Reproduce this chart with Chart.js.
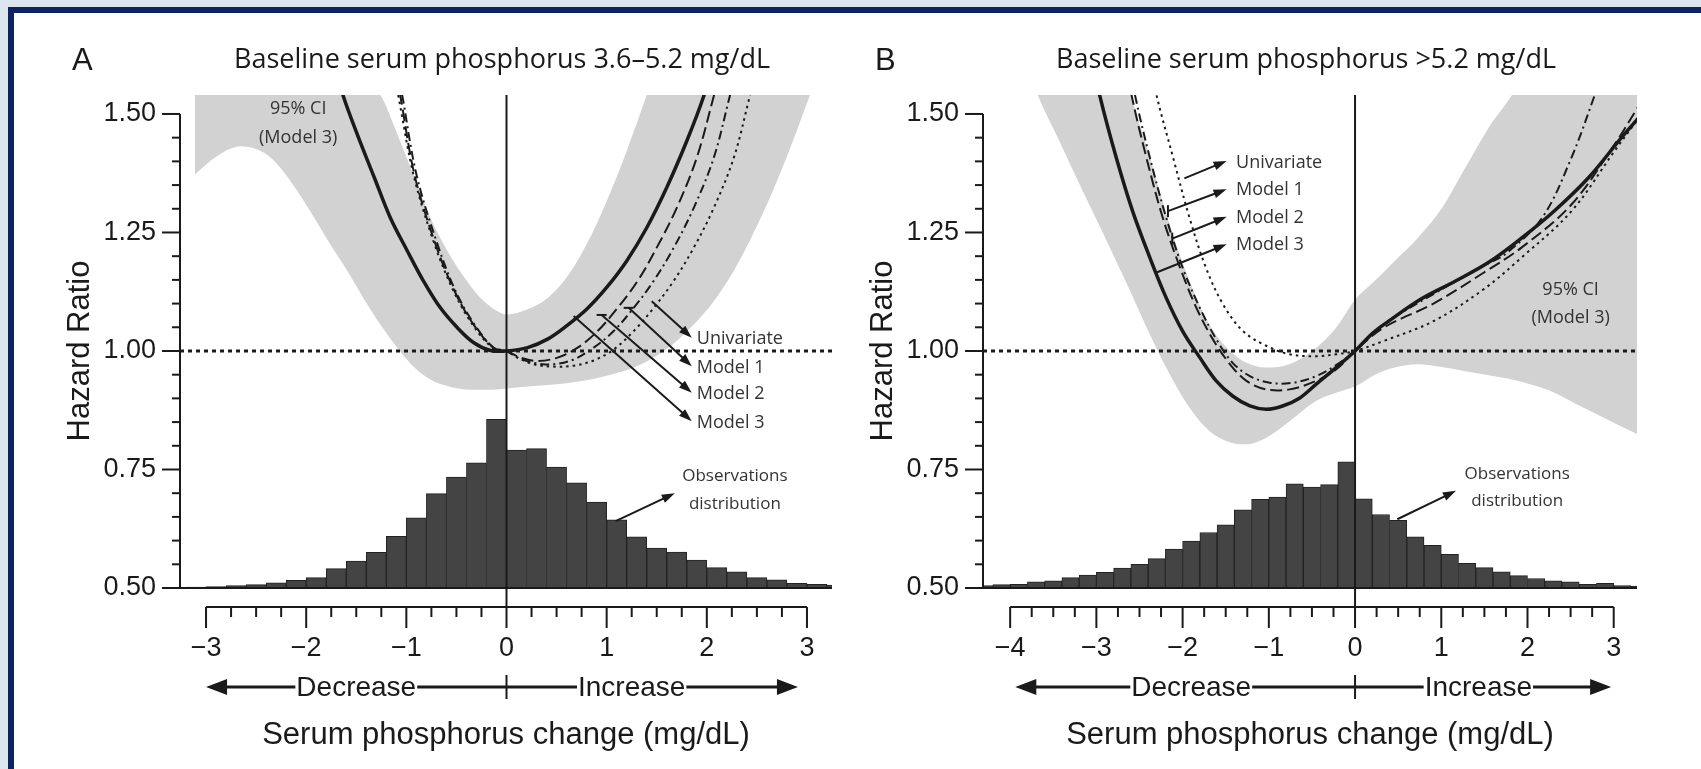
<!DOCTYPE html>
<html>
<head>
<meta charset="utf-8">
<script src="https://cdn.jsdelivr.net/npm/chart.js@4.4.1/dist/chart.umd.min.js"></script>
<style>
  html, body { margin: 0; padding: 0; background: #dde5f1; overflow: hidden; }
  #frame { position: absolute; left: 8px; top: 7px; width: 1693px; height: 762px; background: #0c2461; }
  #page { position: absolute; left: 14px; top: 13px; width: 1687px; height: 756px; background: #fff; }
  #chartA { position: absolute; left: 0; top: 0; }
  #chartB { position: absolute; left: 836px; top: 0; }
</style>
</head>
<body>
<div id="frame"></div>
<div id="page">
  <canvas id="chartA" width="836" height="756"></canvas>
  <canvas id="chartB" width="851" height="756"></canvas>
</div>
<script>
// ---- shared ticks ----
const yTicks = [0.5, 0.75, 1.0, 1.25, 1.5];
const xTicksA = [-3, -2, -1, 0, 1, 2, 3];
const xTicksB = [-4, -3, -2, -1, 0, 1, 2, 3];
const binWidth = 0.2;

// ---- panel A: baseline 3.6-5.2 ----
const aCiX     = [-3.11, -2.9, -2.65, -2.42, -2.26, -2.09, -1.92, -1.76, -1.59, -1.43, -1.26, -1.09, -0.92, -0.76, -0.59, -0.42, -0.26, -0.09, 0, 0.21, 0.41, 0.60, 0.80, 1.00, 1.20, 1.40, 1.60, 1.87, 2.07, 2.27, 2.46, 2.66, 2.86, 3.03, 3.25];
const aCiLower = [1.373, 1.41, 1.432, 1.418, 1.387, 1.338, 1.281, 1.225, 1.169, 1.112, 1.056, 1.007, 0.965, 0.940, 0.926, 0.919, 0.918, 0.919, 0.921, 0.925, 0.928, 0.932, 0.938, 0.948, 0.960, 0.978, 1.004, 1.056, 1.105, 1.169, 1.246, 1.338, 1.443, 1.54, 1.66];
const aCiUpper = [2.3, 2.2, 2.05, 1.92, 1.84, 1.76, 1.69, 1.63, 1.59, 1.56, 1.54, 1.457, 1.366, 1.281, 1.211, 1.155, 1.112, 1.084, 1.077, 1.088, 1.112, 1.155, 1.225, 1.316, 1.422, 1.54, 1.66, 1.84, 1.98, 2.1, 2.25, 2.4, 2.55, 2.7, 2.85];
const aModel3 = [[-1.68, 1.58], [-1.63, 1.538], [-1.49, 1.457], [-1.32, 1.366], [-1.16, 1.281], [-0.99, 1.211], [-0.83, 1.148], [-0.66, 1.091], [-0.49, 1.049], [-0.33, 1.018], [-0.16, 1.001], [0, 1.0], [0.21, 1.007], [0.41, 1.025], [0.60, 1.053], [0.80, 1.088], [1.00, 1.134], [1.20, 1.190], [1.40, 1.260], [1.60, 1.345], [1.80, 1.443], [1.97, 1.538], [2.02, 1.58]];
const aModel2 = [[-1.10, 1.58], [-1.06, 1.538], [-0.92, 1.373], [-0.72, 1.232], [-0.52, 1.127], [-0.33, 1.056], [-0.13, 1.007], [0, 1.0], [0.14, 0.986], [0.31, 0.979], [0.51, 0.986], [0.71, 1.007], [0.91, 1.042], [1.11, 1.091], [1.31, 1.148], [1.50, 1.218], [1.70, 1.302], [1.90, 1.408], [2.07, 1.538], [2.12, 1.58]];
const aModel1 = [[-1.08, 1.58], [-1.04, 1.538], [-0.90, 1.373], [-0.70, 1.232], [-0.51, 1.127], [-0.32, 1.056], [-0.12, 1.005], [0, 1.0], [0.11, 0.986], [0.27, 0.975], [0.47, 0.972], [0.67, 0.982], [0.87, 1.007], [1.07, 1.042], [1.27, 1.091], [1.47, 1.148], [1.67, 1.218], [1.87, 1.302], [2.07, 1.408], [2.23, 1.538], [2.28, 1.58]];
const aUnivariate = [[-1.12, 1.58], [-1.08, 1.538], [-0.93, 1.373], [-0.73, 1.232], [-0.53, 1.127], [-0.34, 1.056], [-0.14, 1.007], [0, 1.0], [0.11, 0.986], [0.27, 0.972], [0.47, 0.967], [0.67, 0.969], [0.87, 0.980], [1.07, 1.003], [1.27, 1.042], [1.47, 1.091], [1.67, 1.148], [1.87, 1.218], [2.07, 1.302], [2.27, 1.408], [2.43, 1.538], [2.48, 1.58]];
const aBins   = [-3.3, -3.1, -2.9, -2.7, -2.5, -2.3, -2.1, -1.9, -1.7, -1.5, -1.3, -1.1, -0.9, -0.7, -0.5, -0.3, -0.1, 0.1, 0.3, 0.5, 0.7, 0.9, 1.1, 1.3, 1.5, 1.7, 1.9, 2.1, 2.3, 2.5, 2.7, 2.9, 3.1, 3.3];
const aCounts = [0.501, 0.502, 0.503, 0.505, 0.507, 0.511, 0.516, 0.522, 0.541, 0.557, 0.575, 0.609, 0.648, 0.699, 0.734, 0.764, 0.856, 0.791, 0.794, 0.755, 0.722, 0.681, 0.644, 0.608, 0.584, 0.576, 0.559, 0.543, 0.534, 0.522, 0.517, 0.510, 0.508, 0.506];

// ---- panel B: baseline >5.2 ----
const bCiX     = [-3.80, -3.68, -3.43, -3.16, -2.88, -2.61, -2.38, -2.15, -1.92, -1.69, -1.45, -1.26, -1.03, -0.76, -0.45, -0.22, 0, 0.23, 0.46, 0.73, 1.01, 1.28, 1.55, 1.82, 2.26, 2.65, 3.04, 3.30];
const bCiLower = [1.60, 1.54, 1.443, 1.338, 1.232, 1.127, 1.035, 0.951, 0.880, 0.831, 0.807, 0.803, 0.817, 0.852, 0.895, 0.912, 0.925, 0.950, 0.965, 0.972, 0.966, 0.957, 0.949, 0.940, 0.916, 0.880, 0.845, 0.822];
const bCiUpper = [2.3, 2.2, 2.05, 1.9, 1.72, 1.545, 1.408, 1.267, 1.148, 1.056, 1.000, 0.975, 0.965, 0.972, 1.007, 1.049, 1.108, 1.148, 1.190, 1.239, 1.302, 1.387, 1.471, 1.54, 1.68, 1.82, 1.96, 2.05];
const bModel3 = [[-3.0, 1.58], [-2.96, 1.538], [-2.77, 1.408], [-2.58, 1.295], [-2.38, 1.197], [-2.19, 1.112], [-2.00, 1.042], [-1.80, 0.986], [-1.61, 0.937], [-1.42, 0.905], [-1.22, 0.884], [-1.03, 0.877], [-0.84, 0.884], [-0.64, 0.901], [-0.45, 0.930], [-0.22, 0.965], [0, 1.0], [0.2, 1.037], [0.39, 1.063], [0.77, 1.110], [1.16, 1.147], [1.55, 1.187], [1.93, 1.238], [2.32, 1.297], [2.71, 1.366], [3.09, 1.45], [3.30, 1.494]];
const bModel2 = [[-2.62, 1.58], [-2.59, 1.538], [-2.42, 1.408], [-2.23, 1.281], [-2.03, 1.176], [-1.84, 1.091], [-1.65, 1.025], [-1.45, 0.972], [-1.26, 0.937], [-1.03, 0.919], [-0.76, 0.919], [-0.45, 0.937], [-0.22, 0.961], [0, 1.0], [0.33, 1.049], [0.91, 1.100], [1.49, 1.165], [1.93, 1.218], [2.51, 1.309], [3.01, 1.436], [3.30, 1.52]];
const bModel1 = [[-2.58, 1.58], [-2.55, 1.538], [-2.38, 1.408], [-2.19, 1.281], [-2.00, 1.176], [-1.80, 1.091], [-1.61, 1.025], [-1.42, 0.975], [-1.22, 0.947], [-0.99, 0.933], [-0.72, 0.933], [-0.45, 0.947], [-0.22, 0.970], [0, 1.0], [0.33, 1.056], [0.91, 1.12], [1.49, 1.18], [1.74, 1.204], [2.17, 1.281], [2.51, 1.408], [2.78, 1.54], [2.83, 1.57]];
const bUnivariate = [[-2.33, 1.58], [-2.30, 1.538], [-2.11, 1.408], [-1.92, 1.281], [-1.73, 1.176], [-1.53, 1.098], [-1.30, 1.042], [-1.03, 1.011], [-0.76, 0.993], [-0.45, 0.989], [-0.22, 0.993], [0, 1.0], [0.33, 1.021], [0.91, 1.063], [1.49, 1.13], [1.93, 1.197], [2.51, 1.295], [3.01, 1.422], [3.30, 1.494]];
const bBins   = [-4.3, -4.1, -3.9, -3.7, -3.5, -3.3, -3.1, -2.9, -2.7, -2.5, -2.3, -2.1, -1.9, -1.7, -1.5, -1.3, -1.1, -0.9, -0.7, -0.5, -0.3, -0.1, 0.1, 0.3, 0.5, 0.7, 0.9, 1.1, 1.3, 1.5, 1.7, 1.9, 2.1, 2.3, 2.5, 2.7, 2.9, 3.1, 3.3];
const bCounts = [0.505, 0.507, 0.508, 0.513, 0.515, 0.522, 0.527, 0.533, 0.542, 0.550, 0.562, 0.582, 0.599, 0.617, 0.633, 0.665, 0.687, 0.692, 0.720, 0.713, 0.718, 0.766, 0.688, 0.655, 0.643, 0.608, 0.590, 0.571, 0.552, 0.543, 0.534, 0.526, 0.520, 0.515, 0.513, 0.508, 0.510, 0.505, 0.504];

const ink = '#1a1a1a';
const bandColor = '#d2d2d2';
const numFont = '"Liberation Sans", Arial, sans-serif';
const noteFont = '"Open Sans", "Noto Sans", sans-serif';

function line(ctx, x1, y1, x2, y2) {
  ctx.beginPath(); ctx.moveTo(x1, y1); ctx.lineTo(x2, y2); ctx.stroke();
}

function arrow(ctx, x1, y1, x2, y2, head, wide) {
  const a = Math.atan2(y2 - y1, x2 - x1), c = Math.cos(a), s = Math.sin(a);
  line(ctx, x1, y1, x2 - c * head * 0.7, y2 - s * head * 0.7);
  ctx.beginPath();
  ctx.moveTo(x2, y2);
  ctx.lineTo(x2 - head * c + wide / 2 * s, y2 - head * s - wide / 2 * c);
  ctx.lineTo(x2 - head * c - wide / 2 * s, y2 - head * s + wide / 2 * c);
  ctx.closePath(); ctx.fill();
}

function makeDecor(p) {
  return {
    id: 'decor',
    afterDatasetsDraw(chart) {
      const { ctx, chartArea: a, scales } = chart;
      const X = v => scales.x.getPixelForValue(v);
      const Y = v => scales.y.getPixelForValue(v);
      const axisY = a.bottom + 19, rowY = a.bottom + 99;
      ctx.save();
      ctx.strokeStyle = ink; ctx.fillStyle = ink;

      // reference lines
      ctx.lineWidth = 3; ctx.setLineDash([4, 4]);
      line(ctx, a.left, Y(1), a.right, Y(1));
      ctx.setLineDash([]);
      ctx.lineWidth = 2;
      line(ctx, X(0), a.top, X(0), axisY);
      line(ctx, a.left, Y(yTicks[0]), a.right, Y(yTicks[0]));

      // y axis
      const yLo = yTicks[0], yHi = yTicks[yTicks.length - 1];
      const yMinor = (yTicks[1] - yTicks[0]) / 5;
      line(ctx, a.left, Y(yHi), a.left, Y(yLo));
      for (let i = 0; i <= Math.round((yHi - yLo) / yMinor); i++) {
        const v = yLo + i * yMinor;
        line(ctx, a.left - (i % 5 === 0 ? 18 : 8), Y(v), a.left, Y(v));
      }
      ctx.font = '27px ' + numFont;
      ctx.textAlign = 'right'; ctx.textBaseline = 'middle';
      yTicks.forEach(v => ctx.fillText(v.toFixed(2), a.left - 24, Y(v)));

      // x axis (offset below the plot)
      const t = p.xTicks, x0 = t[0], x1 = t[t.length - 1];
      line(ctx, X(x0), axisY, X(x1), axisY);
      for (let i = 0; i <= Math.round((x1 - x0) * 4); i++) {
        const v = x0 + i * 0.25;
        line(ctx, X(v), axisY, X(v), axisY + (i % 4 === 0 ? 21 : 10));
      }
      ctx.textAlign = 'center';
      t.forEach(v => ctx.fillText(v < 0 ? '\u2212' + Math.abs(v) : String(v), X(v), a.bottom + 61));

      // decrease / increase row
      ctx.lineWidth = 3;
      arrow(ctx, X(0), rowY, X(p.rowFrom), rowY, 21, 16);
      arrow(ctx, X(0), rowY, X(p.rowTo), rowY, 21, 16);
      ctx.lineWidth = 2;
      line(ctx, X(0), rowY - 12, X(0), rowY + 12);
      ctx.font = '28px ' + numFont;
      [['Decrease', p.decX], ['Increase', p.incX]].forEach(([txt, v]) => {
        const w = ctx.measureText(txt).width;
        ctx.fillStyle = '#fff';
        ctx.fillRect(X(v) - w / 2 - 1, rowY - 16, w + 2, 32);
        ctx.fillStyle = ink;
        ctx.fillText(txt, X(v), rowY + 1);
      });

      // axis titles
      ctx.font = '31px ' + numFont;
      ctx.fillText('Serum phosphorus change (mg/dL)', (a.left + a.right) / 2, a.bottom + 147);
      ctx.save();
      ctx.translate(a.left - 100, (Y(yHi) + Y(yLo)) / 2);
      ctx.rotate(-Math.PI / 2);
      ctx.fillText('Hazard Ratio', 0, 0);
      ctx.restore();

      // panel letter + title
      ctx.textAlign = 'left';
      ctx.font = '31px ' + numFont;
      ctx.fillText(p.letter, a.left - 108, a.top - 34);
      ctx.textAlign = 'center';
      ctx.font = '27px ' + noteFont;
      ctx.fillText(p.title, (a.left + a.right) / 2 - 4, a.top - 35);

      // curve pointers
      ctx.font = '18px ' + noteFont;
      ctx.textAlign = 'left';
      ctx.lineWidth = 2;
      p.pointers.forEach(q => {
        const sx = X(q.from[0]), sy = Y(q.from[1]);
        arrow(ctx, sx, sy, X(q.to[0]), Y(q.to[1]), 13, 9);
        if (q.cap === 'h') line(ctx, sx - 5, sy, sx + 5, sy);
        if (q.cap === 'v') line(ctx, sx, sy - 6, sx, sy + 6);
        ctx.fillStyle = '#333';
        ctx.fillText(q.label, X(q.text[0]), Y(q.text[1]));
        ctx.fillStyle = ink;
      });

      // CI and observation labels
      ctx.textAlign = 'center';
      ctx.fillStyle = '#333';
      ctx.font = '18px ' + noteFont;
      ctx.fillText('95% CI', X(p.ciLabel[0]), Y(p.ciLabel[1]));
      ctx.fillText('(Model 3)', X(p.ciLabel[0]), Y(p.ciLabel[2]));
      ctx.font = '17px ' + noteFont;
      ctx.fillText('Observations', X(p.obsLabel[0]), Y(p.obsLabel[1]));
      ctx.fillText('distribution', X(p.obsLabel[0]), Y(p.obsLabel[2]));
      ctx.fillStyle = ink;
      arrow(ctx, X(p.obsArrow[0]), Y(p.obsArrow[1]), X(p.obsArrow[2]), Y(p.obsArrow[3]), 13, 9);
      ctx.restore();
    }
  };
}

const pts = arr => arr.map(([x, y]) => ({ x, y }));
const zip = (xs, ys) => xs.map((x, i) => ({ x, y: ys[i] }));

function curve(label, data, dash, width) {
  return { label, data: pts(data), borderColor: ink, borderWidth: width, borderDash: dash,
           pointRadius: 0, tension: 0.35, fill: false, clip: 0, order: 1 };
}

function makeChart(id, p) {
  return new Chart(document.getElementById(id), {
    type: 'line',
    data: {
      datasets: [
        { label: '95% CI upper', data: zip(p.ciX, p.ciUpper), fill: '+1', backgroundColor: bandColor,
          borderWidth: 0, pointRadius: 0, cubicInterpolationMode: 'monotone', clip: 0, order: 10 },
        { label: '95% CI lower', data: zip(p.ciX, p.ciLower), fill: false,
          borderWidth: 0, pointRadius: 0, cubicInterpolationMode: 'monotone', clip: 0, order: 10 },
        { type: 'bar', label: 'Observations distribution', data: zip(p.bins, p.counts),
          backgroundColor: '#444444', borderColor: '#222222', borderWidth: 1, clip: 0, order: 5,
          barThickness: c => Math.abs(c.chart.scales.x.getPixelForValue(binWidth) - c.chart.scales.x.getPixelForValue(0)) },
        curve('Univariate', p.univariate, [2.5, 4], 2),
        curve('Model 1', p.model1, [9, 4, 2, 4], 2),
        curve('Model 2', p.model2, [12, 5], 2),
        curve('Model 3', p.model3, [], 3.5)
      ]
    },
    options: {
      responsive: false,
      animation: false,
      layout: { padding: p.padding },
      scales: {
        x: { type: 'linear', min: p.xMin, max: p.xMax, offset: false, display: false, grid: { offset: false } },
        y: { type: 'linear', min: 0.5, max: 1.54, display: false }
      },
      plugins: { legend: { display: false }, tooltip: { enabled: false } }
    },
    plugins: [makeDecor(p)]
  });
}

makeChart('chartA', {
  letter: 'A', title: 'Baseline serum phosphorus 3.6\u20135.2 mg/dL',
  xMin: -3.26, xMax: 3.25, xTicks: xTicksA,
  rowFrom: -3.0, rowTo: 2.91, decX: -1.5, incX: 1.25,
  ciX: aCiX, ciLower: aCiLower, ciUpper: aCiUpper,
  bins: aBins, counts: aCounts,
  univariate: aUnivariate, model1: aModel1, model2: aModel2, model3: aModel3,
  pointers: [
    { label: 'Univariate', from: [1.45, 1.105], to: [1.85, 1.028], text: [1.90, 1.025] },
    { label: 'Model 1', from: [1.22, 1.091], to: [1.85, 0.968], text: [1.90, 0.965], cap: 'h' },
    { label: 'Model 2', from: [0.95, 1.076], to: [1.85, 0.912], text: [1.90, 0.909], cap: 'h' },
    { label: 'Model 3', from: [0.67, 1.074], to: [1.85, 0.852], text: [1.90, 0.849] }
  ],
  ciLabel: [-2.08, 1.511, 1.449],
  obsLabel: [2.28, 0.736, 0.677],
  obsArrow: [1.09, 0.641, 1.68, 0.700],
  padding: { left: 166, top: 82, right: 18, bottom: 181 }
});

makeChart('chartB', {
  letter: 'B', title: 'Baseline serum phosphorus >5.2 mg/dL',
  xMin: -4.315, xMax: 3.27, xTicks: xTicksB,
  rowFrom: -3.94, rowTo: 2.97, decX: -1.9, incX: 1.43,
  ciX: bCiX, ciLower: bCiLower, ciUpper: bCiUpper,
  bins: bBins, counts: bCounts,
  univariate: bUnivariate, model1: bModel1, model2: bModel2, model3: bModel3,
  pointers: [
    { label: 'Univariate', from: [-1.98, 1.364], to: [-1.49, 1.401], text: [-1.38, 1.397] },
    { label: 'Model 1', from: [-2.17, 1.295], to: [-1.49, 1.341], text: [-1.38, 1.339], cap: 'v' },
    { label: 'Model 2', from: [-2.12, 1.237], to: [-1.49, 1.283], text: [-1.38, 1.281], cap: 'v' },
    { label: 'Model 3', from: [-2.31, 1.165], to: [-1.49, 1.225], text: [-1.38, 1.224] }
  ],
  ciLabel: [2.50, 1.129, 1.070],
  obsLabel: [1.88, 0.741, 0.684],
  obsArrow: [0.49, 0.645, 1.17, 0.705],
  padding: { left: 133, top: 82, right: 64, bottom: 181 }
});
</script>
</body>
</html>
